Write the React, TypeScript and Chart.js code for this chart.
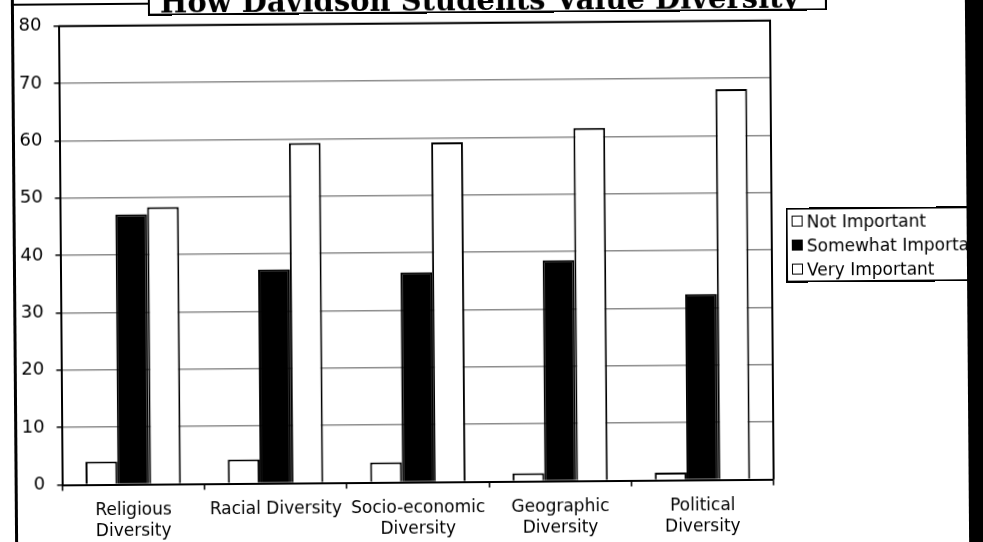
import React, { useEffect, useRef } from "react";
import { Chart, registerables } from "chart.js";

Chart.register(...registerables);

const categories: string[][] = [
  ["Religious", "Diversity"],
  ["Racial Diversity"],
  ["Socio-economic", "Diversity"],
  ["Geographic", "Diversity"],
  ["Political", "Diversity"],
];
const seriesNames = ["Not Important", "Somewhat Important", "Very Important"];
const notImportant = [4, 4.2, 3.5, 1.4, 1.3];
const somewhatImportant = [47.1, 37.3, 36.6, 38.5, 32.4];
const veryImportant = [48.3, 59.3, 59.2, 61.5, 68.1];
const seriesFill = ["#ffffff", "#000000", "#ffffff"];
const yTicks = [0, 10, 20, 30, 40, 50, 60, 70, 80];
const titleText = "How Davidson Students Value Diversity";

const W = 983;
const H = 542;
const FONT = "'DejaVu Sans', Verdana, sans-serif";

const framePlugin = {
  id: "plotFrame",
  afterDatasetsDraw(chart: any) {
    const { ctx, chartArea } = chart;
    ctx.save();
    ctx.strokeStyle = "#000";
    ctx.lineWidth = 2;
    ctx.beginPath();
    ctx.moveTo(chartArea.left, chartArea.top);
    ctx.lineTo(chartArea.right, chartArea.top);
    ctx.lineTo(chartArea.right, chartArea.bottom);
    ctx.stroke();
    ctx.restore();
  },
};

export default function App() {
  const ref = useRef<HTMLCanvasElement>(null);

  useEffect(() => {
    document.body.style.margin = "0";
    const seriesValues = [notImportant, somewhatImportant, veryImportant];
    const chart = new Chart(ref.current as HTMLCanvasElement, {
      type: "bar",
      data: {
        labels: categories,
        datasets: seriesNames.map((name, i) => ({
          label: name,
          data: seriesValues[i],
          backgroundColor: seriesFill[i],
          borderColor: "#000000",
          borderWidth: 2,
          categoryPercentage: 0.67,
          barPercentage: 1.0,
        })),
      },
      options: {
        responsive: false,
        animation: false,
        layout: { padding: { left: 0, top: 19, right: 211, bottom: 0 } },
        plugins: {
          legend: { display: false },
          tooltip: { enabled: false },
        },
        scales: {
          x: {
            grid: {
              drawOnChartArea: false,
              drawTicks: true,
              tickLength: 6,
              color: "#000",
              lineWidth: 1.5,
              offset: true,
            },
            border: { color: "#000", width: 2 },
            ticks: {
              color: "#000",
              font: { family: FONT, size: 17, lineHeight: 1.2 },
              padding: 10,
              maxRotation: 0,
              minRotation: 0,
              autoSkip: false,
            },
            afterFit(scale: any) {
              scale.height = 60.5;
            },
          },
          y: {
            min: 0,
            max: 80,
            afterBuildTicks(scale: any) {
              scale.ticks = yTicks.map((v) => ({ value: v }));
            },
            grid: {
              color: "#8c8c8c",
              lineWidth: 1.5,
              tickColor: "#000",
              tickLength: 5,
            },
            border: { color: "#000", width: 2 },
            ticks: {
              color: "#000",
              font: { family: FONT, size: 18 },
              padding: 12,
            },
            afterFit(scale: any) {
              scale.width = 60.5;
            },
          },
        },
      },
      plugins: [framePlugin],
    });
    return () => chart.destroy();
  }, []);

  return (
    <div
      style={{
        position: "fixed",
        left: 0,
        top: 0,
        width: W,
        height: H,
        overflow: "hidden",
        background: "#fff",
      }}
    >
      <div
        style={{
          position: "absolute",
          left: 0,
          top: 0,
          width: W,
          height: H,
          transform: "rotate(-0.45deg)",
          transformOrigin: "50% 50%",
        }}
      >
        <canvas
          ref={ref}
          width={W}
          height={H}
          style={{ position: "absolute", left: 0, top: 0, width: W, height: H }}
        />
        {/* outer chart frame */}
        <div style={{ position: "absolute", left: 13, top: -10, width: 3, height: H + 20, background: "#000" }} />
        <div style={{ position: "absolute", left: 13, top: 0, width: 140, height: 2, background: "#000" }} />
        {/* title box (cut at the top of the scan) */}
        <div
          style={{
            position: "absolute",
            left: 150,
            top: -30,
            width: 675,
            height: 39,
            border: "2px solid #000",
            background: "#fff",
            overflow: "hidden",
          }}
        >
          <div
            style={{
              position: "absolute",
              left: 10,
              top: 13,
              fontFamily: "'DejaVu Serif', serif",
              fontWeight: "bold",
              fontSize: 29,
              lineHeight: "30px",
              whiteSpace: "nowrap",
              color: "#000",
            }}
          >
            {titleText}
          </div>
        </div>
        {/* legend */}
        <div
          style={{
            position: "absolute",
            left: 786,
            top: 210,
            width: 200,
            height: 71,
            border: "2px solid #000",
            background: "#fff",
            fontFamily: FONT,
            fontSize: 17,
            color: "#000",
          }}
        >
          {seriesNames.map((name, i) => (
            <div
              key={name}
              style={{
                position: "absolute",
                left: 4,
                top: 0 + i * 24,
                height: 23,
                display: "flex",
                alignItems: "center",
                whiteSpace: "nowrap",
              }}
            >
              <span
                style={{
                  display: "inline-block",
                  width: 9,
                  height: 9,
                  border: "1.5px solid #000",
                  background: seriesFill[i],
                  marginRight: 4,
                }}
              />
              <span>{name}</span>
            </div>
          ))}
        </div>
        {/* dark scan band on the right */}
        <div style={{ position: "absolute", left: 967, top: -10, width: 30, height: H + 20, background: "#000" }} />
      </div>
    </div>
  );
}
